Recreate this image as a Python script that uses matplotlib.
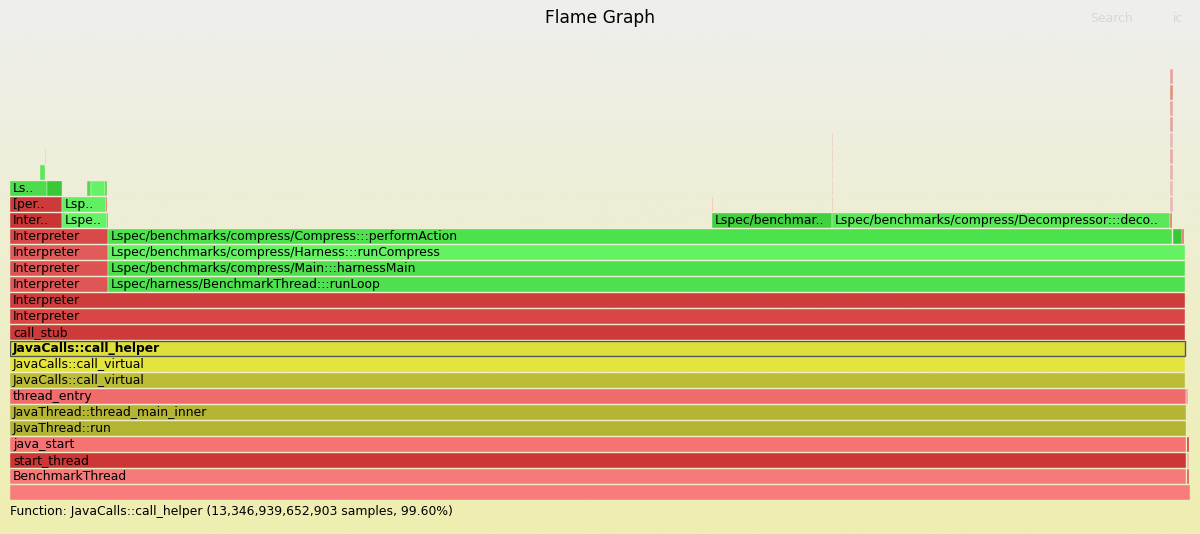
import matplotlib
matplotlib.use("Agg")
import matplotlib.pyplot as plt
import matplotlib.transforms as mtransforms
import numpy as np

W, H = 1200, 534

# flame graph frames: label shown, stack depth, start and width in % of samples
frame_labels = [
    "", "BenchmarkThread", "", "start_thread", "", "java_start", "",
    "JavaThread::run", "JavaThread::thread_main_inner", "thread_entry", "",
    "JavaCalls::call_virtual", "JavaCalls::call_virtual", "JavaCalls::call_helper",
    "call_stub", "Interpreter", "Interpreter",
    "Interpreter", "Lspec/harness/BenchmarkThread:::runLoop",
    "Interpreter", "Lspec/benchmarks/compress/Main:::harnessMain",
    "Interpreter", "Lspec/benchmarks/compress/Harness:::runCompress",
    "Interpreter", "Lspec/benchmarks/compress/Compress:::performAction", "", "",
    "Inter..", "Lspe..", "", "Lspec/benchmar..",
    "Lspec/benchmarks/compress/Decompressor:::deco..", "",
    "[per..", "Lsp..", "", "", "", "",
    "Ls..", "", "", "", "",
    "",
    "", "", "", "", "", "", "", "", "",
    "", "", "", "", "", "", "", "", "",
]
frame_depth = [
    0, 1, 1, 2, 2, 3, 3,
    4, 5, 6, 6,
    7, 8, 9,
    10, 11, 12,
    13, 13,
    14, 14,
    15, 15,
    16, 16, 16, 16,
    17, 17, 17, 17,
    17, 17,
    18, 18, 18, 18, 18, 18,
    19, 19, 19, 19, 19,
    20,
    18, 19, 20, 21, 22, 23, 24, 25, 26,
    20, 21, 20, 21, 21, 19, 20, 21, 22,
]
frame_start = [
    0, 0, 99.72, 0, 99.72, 0, 99.72,
    0, 0, 0, 99.68,
    0, 0, 0,
    0, 0, 0,
    0, 8.31,
    0, 8.31,
    0, 8.31,
    0, 8.31, 98.56, 99.36,
    0, 4.41, 8.22, 59.49,
    69.66, 98.33,
    0, 4.41, 8.13, 59.49, 69.66, 98.33,
    0, 3.14, 6.53, 6.86, 8.05,
    2.54,
    98.33, 98.33, 98.33, 98.33, 98.33, 98.33, 98.33, 98.33, 98.33,
    0.06, 0.06, 8.2, 8.2, 2.97, 69.66, 69.66, 69.66, 69.66,
]
frame_width = [
    100, 99.66, 0.22, 99.66, 0.22, 99.66, 0.22,
    99.66, 99.66, 99.62, 0.15,
    99.6, 99.6, 99.6,
    99.6, 99.6, 99.6,
    8.31, 91.29,
    8.31, 91.29,
    8.31, 91.29,
    8.31, 90.16, 0.76, 0.12,
    4.41, 3.81, 0.08, 10.17,
    28.65, 0.15,
    4.41, 3.72, 0.12, 0.1, 0.06, 0.22,
    3.14, 1.27, 0.34, 1.19, 0.17,
    0.4,
    0.22, 0.22, 0.22, 0.22, 0.22, 0.22, 0.22, 0.22, 0.22,
    0.05, 0.05, 0.05, 0.05, 0.05, 0.06, 0.06, 0.06, 0.06,
]
total_samples = "13,346,939,652,903"
selected = "JavaCalls::call_helper"
selected_pct = 99.60

# per-frame fill colours (flame graph palette)
frame_colors = [
    "#f87c7c", "#f77a7a", "#e05050", "#cc3636", "#eab0b0", "#f57373", "#d03838",
    "#b4b433", "#b5b434", "#f06c6c", "#f0a0a0",
    "#bcbc37", "#e4e43f", "#dede3c",
    "#cd3a3a", "#d84646", "#cf3c3c",
    "#e05656", "#4fe04f",
    "#dd5252", "#4ce14c",
    "#e05a5a", "#62f262",
    "#d74848", "#4ce24c", "#36c836", "#e07070",
    "#c93434", "#66f266", "#e06060", "#40d040",
    "#5ae85a", "#e07575",
    "#cc3a3a", "#60ef60", "#e05050", "#f0b8a8", "#f0c0b0", "#e08f8f",
    "#4cdc4c", "#38c838", "#50dc50", "#66f266", "#50d050",
    "#58e858",
    "#e8b4b4", "#e9b8b8", "#eab0b0", "#e8a8a8", "#e9b6b6", "#e6a0a0", "#e8a4a4", "#e09080", "#e8a0a0",
    "#c0e0c0", "#c0e0c0", "#c0e0c0", "#c0e0c0", "#c0e0c0", "#eac8c0", "#eac8c0", "#eac8c0", "#eac8c0",
]

fig = plt.figure(figsize=(W / 100, H / 100), dpi=100)

# background gradient
bg = fig.add_axes([0, 0, 1, 1])
grad = np.linspace(0, 1, 256)[:, None]
top = np.array([238, 238, 238]) / 255
bot = np.array([238, 238, 176]) / 255
img = top[None, None, :] * (1 - grad[..., None]) + bot[None, None, :] * grad[..., None]
bg.imshow(img, aspect="auto", extent=[0, 1, 0, 1])
bg.set_axis_off()

# flame axes: 10..1190 px wide, depth 0 sits at y=500 px, 16 px per level
n_levels = 29
ax = fig.add_axes([10 / W, (H - 500) / H, 1180 / W, 16 * n_levels / H])
ax.set_xlim(0, 100)
ax.set_ylim(0, n_levels)
ax.set_axis_off()

edges = ["#555555" if lab == selected else "#eeeed6" for lab in frame_labels]
lws = [1.0 if lab == selected else 0.3 for lab in frame_labels]
ax.bar(frame_start, [15 / 16] * len(frame_start), width=frame_width,
       bottom=frame_depth, align="edge", color=frame_colors,
       edgecolor=edges, linewidth=lws)

txt_tr = mtransforms.offset_copy(ax.transData, fig=fig, x=3, y=0, units="dots")
for lab, d, s in zip(frame_labels, frame_depth, frame_start):
    if lab:
        ax.text(s, d + 0.44, lab, transform=txt_tr, fontsize=8.9,
                va="center", ha="left", color="black",
                fontweight="bold" if lab == selected else "normal")

fig.text(0.5, 1 - 18 / H, "Flame Graph", ha="center", va="center",
         fontsize=12.3, color="black")
fig.text(1090 / W, 1 - 19 / H, "Search", ha="left", va="center",
         fontsize=8.9, color="#d8d8d8")
fig.text(1173 / W, 1 - 19 / H, "ic", ha="left", va="center",
         fontsize=8.9, color="#d8d8d8")
fig.text(10 / W, 1 - 512 / H,
         f"Function: {selected} ({total_samples} samples, {selected_pct:.2f}%)",
         ha="left", va="center", fontsize=8.9, color="black")

fig.savefig("out.png", dpi=100)
